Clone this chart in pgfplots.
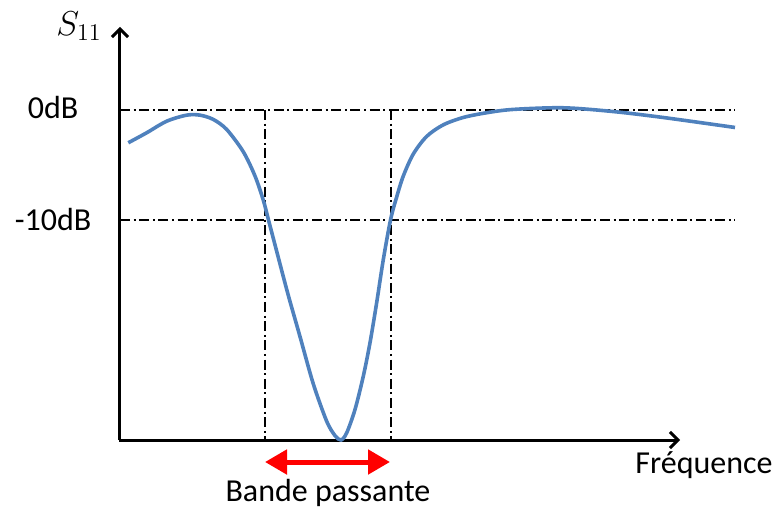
\documentclass[border=0pt]{standalone}
\usepackage{fontspec}
\setmainfont{Carlito}
\usepackage{pgfplots}
\pgfplotsset{compat=1.18}
\usetikzlibrary{arrows.meta}
\definecolor{curveblue}{RGB}{79,129,189}
\begin{document}
\begin{tikzpicture}
\begin{axis}[
  at={(0,0)}, anchor=south west,
  scale only axis, width=307.5pt, height=205pt,
  xmin=0, xmax=615, ymin=-30, ymax=7.27,
  axis lines=none, clip=false,
  ticks=none,
]
% dash-dot reference lines
\addplot[black, line width=0.8pt, dash pattern=on 5pt off 1.8pt on 1pt off 1.8pt] coordinates {(0,0) (615,0)};
\addplot[black, line width=0.8pt, dash pattern=on 5pt off 1.8pt on 1pt off 1.8pt] coordinates {(0,-10) (615,-10)};
\addplot[black, line width=0.8pt, dash pattern=on 5pt off 1.8pt on 1pt off 1.8pt] coordinates {(145,0) (145,-30)};
\addplot[black, line width=0.8pt, dash pattern=on 5pt off 1.8pt on 1pt off 1.8pt] coordinates {(271,0) (271,-30)};
% axes
\addplot[black, line width=1.5pt, -{Straight Barb[length=4pt,width=8pt]}] coordinates {(0,-30) (0,7.55)};
\addplot[black, line width=1.5pt, -{Straight Barb[length=4pt,width=8pt]}] coordinates {(-1,-30) (560,-30)};
% S11 curve
\addplot[curveblue, line width=1.8pt, smooth, tension=0.5] coordinates {
(8.3,-2.98) (26.7,-2.07) (46.7,-1.02) (66.7,-0.47) (80,-0.47) (93.3,-0.86)
(106.7,-1.77) (123.3,-3.8) (135,-6.0) (143.3,-8.2) (148.5,-10.0)
(156.7,-12.85) (168,-16.75) (180,-20.6) (193.3,-24.9) (206.7,-28.3) (215,-29.6)
(221,-30) (226.7,-29.35) (235,-27.23) (243.3,-24.2) (250,-21.16)
(256.7,-17.5) (263.3,-13.6) (270.5,-10.0) (276.7,-7.9) (283.3,-6.0)
(293.3,-4.0) (306.7,-2.4) (323.3,-1.35) (343.3,-0.68) (366.7,-0.25)
(393,0.05) (443,0.2) (493,-0.14) (543,-0.68) (615,-1.59)
};
% red double arrow
\addplot[red, line width=2.5pt, {Triangle[length=11pt,width=12pt]}-{Triangle[length=11pt,width=12pt]}] coordinates {(145,-32.0) (270,-32.0)};
% labels
\node[font=\fontsize{16}{19}\selectfont] at (axis cs:-67,0.27) {0dB};
\node[font=\fontsize{16}{19}\selectfont] at (axis cs:-67,-10) {-10dB};
\node[font=\fontsize{17}{20}\selectfont] at (axis cs:-41,7.6) {$S_{11}$};
\node[font=\fontsize{16}{19}\selectfont] at (axis cs:584,-32.3) {Fréquence};
\node[font=\fontsize{16}{19}\selectfont] at (axis cs:208,-34.8) {Bande passante};
\end{axis}
\pgfresetboundingbox
\path (-60pt,-35pt) rectangle (327.5pt,220pt);
\end{tikzpicture}
\end{document}
